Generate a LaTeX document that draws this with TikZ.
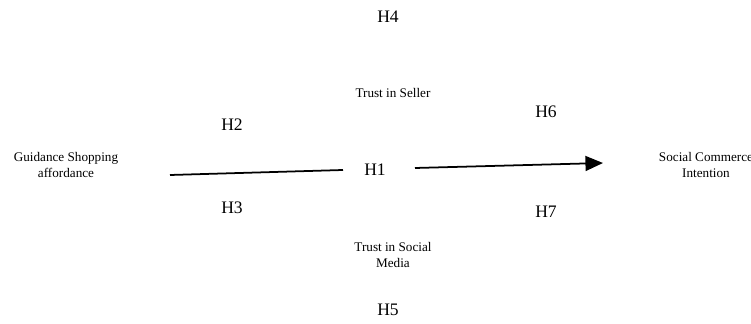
\documentclass[tikz,border=0pt]{standalone}
\usepackage{fontspec}
\setmainfont{Liberation Serif}
\usetikzlibrary{arrows.meta}
\begin{document}
\begin{tikzpicture}[
  x=0.02cm, y=-0.02cm,
  hyp/.style={font=\fontsize{10}{12}\selectfont, inner sep=1pt},
  construct/.style={font=\fontsize{7.5}{9}\selectfont, align=center, inner sep=1pt},
  link/.style={line width=1pt},
  arrow/.style={line width=1pt, -{Triangle[length=10pt, width=8.5pt]}}
]
\useasboundingbox (0,0) rectangle (751,324);
\node[hyp] (h4) at (388,17) {H4};
\node[construct] (seller) at (393,93) {Trust in Seller};
\node[hyp] (h2) at (232,125) {H2};
\node[hyp] (h6) at (546,112) {H6};
\node[construct] (gsa) at (66,165) {Guidance Shopping\\affordance};
\node[hyp] (h1) at (375,170) {H1};
\node[construct] (sci) at (706,165) {Social Commerce\\Intention};
\node[hyp] (h3) at (232,208) {H3};
\node[hyp] (h7) at (546,212) {H7};
\node[construct] (media) at (393,255) {Trust in Social\\Media};
\node[hyp] (h5) at (388,310) {H5};

\coordinate (gsaout) at (170,175);
\coordinate (h1in) at (343,170);
\coordinate (h1out) at (415,168);
\coordinate (sciin) at (603,163);
\draw[link] (gsaout) -- (h1in);
\draw[arrow] (h1out) -- (sciin);
\end{tikzpicture}
\end{document}
